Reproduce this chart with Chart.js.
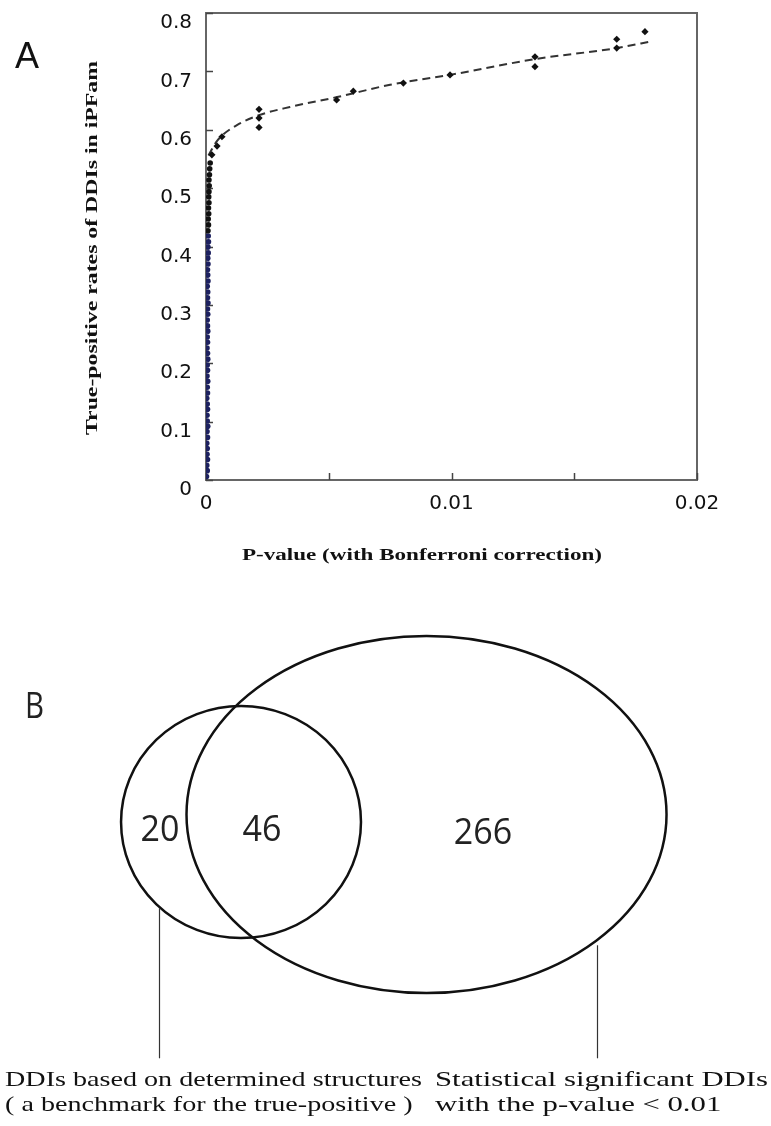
<!DOCTYPE html>
<html>
<head>
<meta charset="utf-8">
<script src="https://cdn.jsdelivr.net/npm/chart.js@4.4.1/dist/chart.umd.min.js"></script>
<style>
  html, body { margin: 0; padding: 0; background: #fff; }
  #wrap { position: relative; width: 771px; height: 1126px; }
  canvas { display: block; }
</style>
</head>
<body>
<div id="wrap">
  <canvas id="chartA" width="771" height="580"></canvas>
  <canvas id="chartB" width="771" height="546"></canvas>
</div>
<script>
// panel A : true-positive rate vs p-value
const vertP = [0.00002, 0.00005, 0.00003, 0.00006, 0.00004, 0.00005, 0.00003, 0.00006, 0.00004, 0.00007,
               0.00005, 0.00004, 0.00006, 0.00005, 0.00003, 0.00006, 0.00005, 0.00007, 0.00004, 0.00006,
               0.00005, 0.00007, 0.00006, 0.00004, 0.00006, 0.00005, 0.00007, 0.00006, 0.00005, 0.00007,
               0.00006, 0.00008, 0.00006, 0.00007, 0.00005, 0.00008, 0.00007, 0.00006, 0.00008, 0.00007,
               0.00009, 0.00008, 0.00010, 0.00009, 0.00008, 0.00010, 0.00009, 0.00011, 0.00010, 0.00012,
               0.00011, 0.00012, 0.00013, 0.00012, 0.00014, 0.00015, 0.00017];
const vertRate = [0.006, 0.016, 0.025, 0.035, 0.044, 0.054, 0.063, 0.073, 0.083, 0.092,
                  0.101, 0.111, 0.121, 0.130, 0.140, 0.149, 0.159, 0.169, 0.178, 0.188,
                  0.197, 0.207, 0.217, 0.226, 0.236, 0.245, 0.255, 0.264, 0.274, 0.284,
                  0.293, 0.303, 0.312, 0.322, 0.332, 0.341, 0.351, 0.360, 0.370, 0.380,
                  0.389, 0.399, 0.408, 0.418, 0.427, 0.437, 0.447, 0.456, 0.466, 0.475,
                  0.485, 0.494, 0.504, 0.514, 0.523, 0.533, 0.543];
const upperP = [0.00024, 0.00045, 0.00065, 0.00216, 0.00216, 0.00216, 0.00532, 0.0060, 0.00804, 0.00994,
                0.0134, 0.0134, 0.01673, 0.01673, 0.01788];
const upperRate = [0.557, 0.572, 0.588, 0.635, 0.620, 0.604, 0.651, 0.666, 0.680, 0.694,
                   0.725, 0.708, 0.755, 0.740, 0.768];
const trendP = [0.0001, 0.0004, 0.00065, 0.00126, 0.00216, 0.00342, 0.00534, 0.0075, 0.00994, 0.0134, 0.01674, 0.0182];
const trendRate = [0.556, 0.578, 0.590, 0.608, 0.625, 0.639, 0.656, 0.677, 0.694, 0.721, 0.740, 0.752];
const xTickLabels = ['0', '0.01', '0.02'];
const xTitle = 'P-value (with Bonferroni correction)';
const yTitle = 'True-positive rates of DDIs in iPFam';

// panel B : venn
const vennCounts = ['20', '46', '266'];
const countX = [20.75, 33.98, 62.65];
const countY = [45.8, 45.8, 46.5];
const circleX = [31.26, 55.32];
const circleY = [44.32, 42.95];
const circleRX = [15.56, 31.13];
const circleRY = [21.25, 32.69];
const setLabels = [
  ['DDIs based on determined structures', '( a benchmark for the true-positive )'],
  ['Statistical significant DDIs', 'with the p-value < 0.01']
];
const leaderX = [20.62, 77.43];
const leaderTop = [60.1, 66.9];
const leaderBottom = [87.6, 87.6];
const labelX = [0.65, 56.42];
const labelY = [91.6, 96.2];

function stretchText(ctx, text, x, y, targetW, rot, align) {
  ctx.save();
  ctx.translate(x, y);
  ctx.rotate(rot || 0);
  const w = ctx.measureText(text).width;
  ctx.scale(targetW / w, 1);
  ctx.textAlign = align || 'center';
  ctx.textBaseline = 'middle';
  ctx.fillText(text, 0, 0);
  ctx.restore();
}

const frameA = {
  id: 'frameA',
  beforeDatasetsDraw(chart) {
    const {ctx, chartArea: a, scales} = chart;
    ctx.save();
    ctx.strokeStyle = '#666';
    ctx.lineWidth = 2;
    ctx.strokeRect(a.left, a.top, a.right - a.left, a.bottom - a.top);
    ctx.lineWidth = 1.5;
    ctx.strokeStyle = '#444';
    ctx.beginPath();
    scales.y.ticks.forEach(t => {
      const py = Math.round(scales.y.getPixelForValue(t.value)) + 0.5;
      ctx.moveTo(a.left, py); ctx.lineTo(a.left + 7, py);
    });
    scales.x.ticks.forEach(t => {
      const px = Math.round(scales.x.getPixelForValue(t.value)) + 0.5;
      ctx.moveTo(px, a.bottom); ctx.lineTo(px, a.bottom - 7);
    });
    ctx.stroke();
    ctx.restore();
  },
  afterDraw(chart) {
    const {ctx} = chart;
    ctx.save();
    ctx.fillStyle = '#111';
    ctx.font = 'bold 17px "Liberation Serif"';
    stretchText(ctx, yTitle, 93, 248, 374, -Math.PI / 2);
    stretchText(ctx, xTitle, 422, 556, 360, 0);
    ctx.font = '36px "Liberation Sans"';
    ctx.textAlign = 'left';
    ctx.textBaseline = 'alphabetic';
    ctx.fillText('A', 15, 68);
    ctx.restore();
  }
};

new Chart(document.getElementById('chartA'), {
  type: 'scatter',
  data: {
    datasets: [
      {
        label: 'trend',
        type: 'line',
        data: trendP.map((v, i) => ({x: v, y: trendRate[i]})),
        borderColor: '#333',
        borderWidth: 2,
        borderDash: [8, 5],
        pointRadius: 0,
        fill: false,
        cubicInterpolationMode: 'monotone',
        order: 3
      },
      {
        label: 'low p',
        data: vertP.map((v, i) => ({x: v, y: vertRate[i]})),
        pointRadius: 2.8,
        pointBorderWidth: 0,
        pointBackgroundColor: c => (c.raw && c.raw.y > 0.42) ? '#111' : '#1d2160',
        order: 2
      },
      {
        label: 'others',
        data: upperP.map((v, i) => ({x: v, y: upperRate[i]})),
        pointStyle: 'rectRot',
        pointRadius: 3.6,
        pointBorderWidth: 0,
        pointBackgroundColor: '#111',
        order: 1
      }
    ]
  },
  options: {
    responsive: false,
    animation: false,
    layout: { padding: { left: 0, right: 74, top: 13, bottom: 0 } },
    plugins: { legend: { display: false }, tooltip: { enabled: false } },
    scales: {
      x: {
        type: 'linear',
        min: 0, max: 0.02,
        grid: { display: false, drawTicks: false },
        border: { display: false },
        ticks: {
          stepSize: 0.005,
          padding: 12,
          color: '#111',
          font: { family: 'DejaVu Sans', size: 20 },
          maxRotation: 0,
          callback: v => {
            const k = Math.round(v * 100);
            return Math.abs(v * 100 - k) < 1e-6 ? xTickLabels[k] : '';
          }
        },
        afterFit: s => { s.height = 100; s.paddingLeft = 0; s.paddingRight = 0; }
      },
      y: {
        min: 0, max: 0.8,
        grid: { display: false, drawTicks: false },
        border: { display: false },
        ticks: {
          stepSize: 0.1,
          padding: 14,
          labelOffset: 10,
          color: '#111',
          font: { family: 'DejaVu Sans', size: 20 },
          callback: v => String(Math.round(v * 10) / 10)
        },
        afterFit: s => { s.width = 206; s.paddingTop = 0; s.paddingBottom = 0; }
      }
    }
  },
  plugins: [frameA]
});

const vennDraw = {
  id: 'vennDraw',
  afterDraw(chart) {
    const {ctx, scales: {x, y}} = chart;
    ctx.save();
    ctx.strokeStyle = '#111';
    ctx.lineWidth = 2.5;
    circleX.forEach((cx, i) => {
      const px = x.getPixelForValue(cx), py = y.getPixelForValue(circleY[i]);
      const rx = x.getPixelForValue(cx + circleRX[i]) - px;
      const ry = y.getPixelForValue(circleY[i] + circleRY[i]) - py;
      ctx.beginPath();
      ctx.ellipse(px, py, Math.abs(rx), Math.abs(ry), 0, 0, Math.PI * 2);
      ctx.stroke();
    });
    ctx.lineWidth = 1.2;
    ctx.strokeStyle = '#333';
    leaderX.forEach((lx, i) => {
      const px = Math.round(x.getPixelForValue(lx)) + 0.5;
      ctx.beginPath();
      ctx.moveTo(px, y.getPixelForValue(leaderTop[i]));
      ctx.lineTo(px, y.getPixelForValue(leaderBottom[i]));
      ctx.stroke();
    });
    ctx.fillStyle = '#222';
    ctx.font = '37px "Open Sans"';
    vennCounts.forEach((t, i) => {
      stretchText(ctx, t, x.getPixelForValue(countX[i]), y.getPixelForValue(countY[i]),
        ctx.measureText(t).width * 0.92, 0);
    });
    ctx.font = '21px "Liberation Serif"';
    ctx.fillStyle = '#111';
    const targets = [417, 333];
    setLabels.forEach((lines, i) => {
      const k = targets[i] / ctx.measureText(lines[0]).width;
      lines.forEach((t, j) => {
        stretchText(ctx, t, x.getPixelForValue(labelX[i]), y.getPixelForValue(labelY[j]),
          ctx.measureText(t).width * k, 0, 'left');
      });
    });
    ctx.font = '36px "Open Sans"';
    ctx.fillStyle = '#222';
    stretchText(ctx, 'B', 25, 128, 19, 0, 'left');
    ctx.restore();
  }
};

new Chart(document.getElementById('chartB'), {
  type: 'scatter',
  data: { datasets: [{ data: [], pointRadius: 0 }] },
  options: {
    responsive: false,
    animation: false,
    layout: { padding: 0 },
    plugins: { legend: { display: false }, tooltip: { enabled: false } },
    scales: {
      x: { min: 0, max: 100, display: false },
      y: { min: 0, max: 100, reverse: true, display: false }
    }
  },
  plugins: [vennDraw]
});
</script>
</body>
</html>
